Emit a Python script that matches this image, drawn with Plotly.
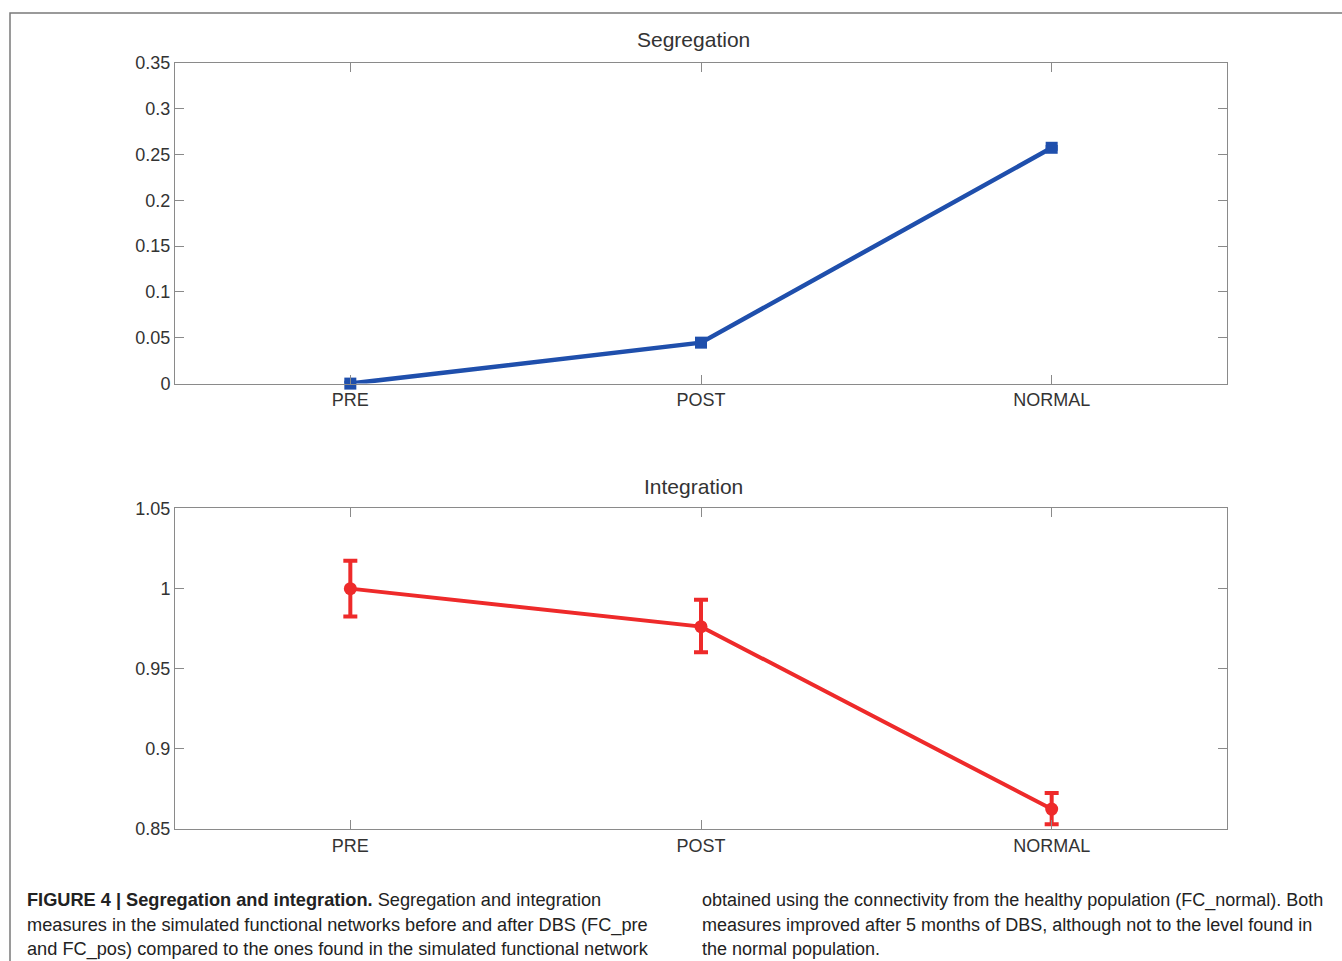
import plotly.graph_objects as go

categories = ["PRE", "POST", "NORMAL"]
seg_values = [0.0, 0.0447, 0.2574]
seg_err = [0.0015, 0.0015, 0.0015]
int_values = [1.0, 0.9763, 0.8625]
int_err_plus = [0.0174, 0.0168, 0.0100]
int_err_minus = [0.0174, 0.0160, 0.0094]
seg_ticks = [0, 0.05, 0.1, 0.15, 0.2, 0.25, 0.3, 0.35]
seg_ticklabels = ["0", "0.05", "0.1", "0.15", "0.2", "0.25", "0.3", "0.35"]
int_ticks = [0.85, 0.9, 0.95, 1.0, 1.05]
int_ticklabels = ["0.85", "0.9", "0.95", "1", "1.05"]
left_caption_lines = [
    "<b>FIGURE 4 | Segregation and integration.</b> Segregation and integration",
    "measures in the simulated functional networks before and after DBS (FC_pre",
    "and FC_pos) compared to the ones found in the simulated functional network",
]
right_caption_lines = [
    "obtained using the connectivity from the healthy population (FC_normal). Both",
    "measures improved after 5 months of DBS, although not to the level found in",
    "the normal population.",
]

W, H = 1342, 961
BLUE = "#1f4fac"
RED = "#ee2a2a"
FONT = "Liberation Sans, Arial, sans-serif"
TXT = "#333333"
AX = "#8a8a8a"

fig = go.Figure()
fig.add_trace(go.Scatter(
    x=categories, y=seg_values, mode="lines+markers", cliponaxis=False,
    line=dict(color=BLUE, width=4.5),
    marker=dict(symbol="square", size=12, color=BLUE),
    error_y=dict(type="data", array=seg_err, color=BLUE, thickness=3, width=6),
    xaxis="x", yaxis="y", showlegend=False))
fig.add_trace(go.Scatter(
    x=categories, y=int_values, mode="lines+markers", cliponaxis=False,
    line=dict(color=RED, width=4),
    marker=dict(symbol="circle", size=13, color=RED),
    error_y=dict(type="data", symmetric=False, array=int_err_plus,
                 arrayminus=int_err_minus, color=RED, thickness=4, width=7),
    xaxis="x2", yaxis="y2", showlegend=False))

def px(x):
    return x / W

def py(y):
    return 1 - (y - 9) / 942.0

common_x = dict(range=[-0.5, 2.5], showline=True, linecolor=AX, linewidth=1,
                mirror="allticks", ticks="inside", ticklen=9, tickcolor=AX,
                showgrid=False, zeroline=False,
                tickfont=dict(family=FONT, size=18, color=TXT))
common_y = dict(showline=True, linecolor=AX, linewidth=1, mirror="allticks",
                ticks="inside", ticklen=9, tickcolor=AX, showgrid=False,
                zeroline=False, tickfont=dict(family=FONT, size=18, color=TXT))

fig.update_layout(
    width=W, height=H, margin=dict(l=0, r=0, t=0, b=0),
    paper_bgcolor="white", plot_bgcolor="white",
    xaxis=dict(domain=[px(175), px(1227)], anchor="y", type="category",
               categoryorder="array", categoryarray=categories, **common_x),
    yaxis=dict(domain=[py(383), py(62)], anchor="x", range=[0, 0.35],
               tickvals=seg_ticks, ticktext=seg_ticklabels, **common_y),
    xaxis2=dict(domain=[px(175), px(1227)], anchor="y2", type="category",
                categoryorder="array", categoryarray=categories, **common_x),
    yaxis2=dict(domain=[py(829), py(508)], anchor="x2", range=[0.85, 1.05],
                tickvals=int_ticks, ticktext=int_ticklabels, **common_y),
)

fig.add_shape(type="rect", xref="paper", yref="paper",
              x0=px(10), x1=1.05, y0=-0.1, y1=py(12),
              line=dict(color="#7a7a7a", width=1.5), fillcolor="rgba(0,0,0,0)")

fig.add_annotation(text="Segregation", xref="paper", yref="paper",
                   x=px(694), y=py(39), xanchor="center", yanchor="middle",
                   showarrow=False, font=dict(family=FONT, size=21, color=TXT))
fig.add_annotation(text="Integration", xref="paper", yref="paper",
                   x=px(694), y=py(486), xanchor="center", yanchor="middle",
                   showarrow=False, font=dict(family=FONT, size=21, color=TXT))

line_y = [900, 925, 949]
for i, t in enumerate(left_caption_lines):
    fig.add_annotation(text=t, xref="paper", yref="paper",
                       x=px(25), y=py(line_y[i]), xanchor="left", yanchor="middle",
                       align="left", showarrow=False,
                       font=dict(family=FONT, size=18.2, color="#222222"))
for i, t in enumerate(right_caption_lines):
    fig.add_annotation(text=t, xref="paper", yref="paper",
                       x=px(700), y=py(line_y[i]), xanchor="left", yanchor="middle",
                       align="left", showarrow=False,
                       font=dict(family=FONT, size=18, color="#222222"))

fig.write_html("out.html", config={"displayModeBar": False},
               post_script="document.body.style.margin='0';document.body.style.padding='0';document.body.style.overflow='hidden';")
